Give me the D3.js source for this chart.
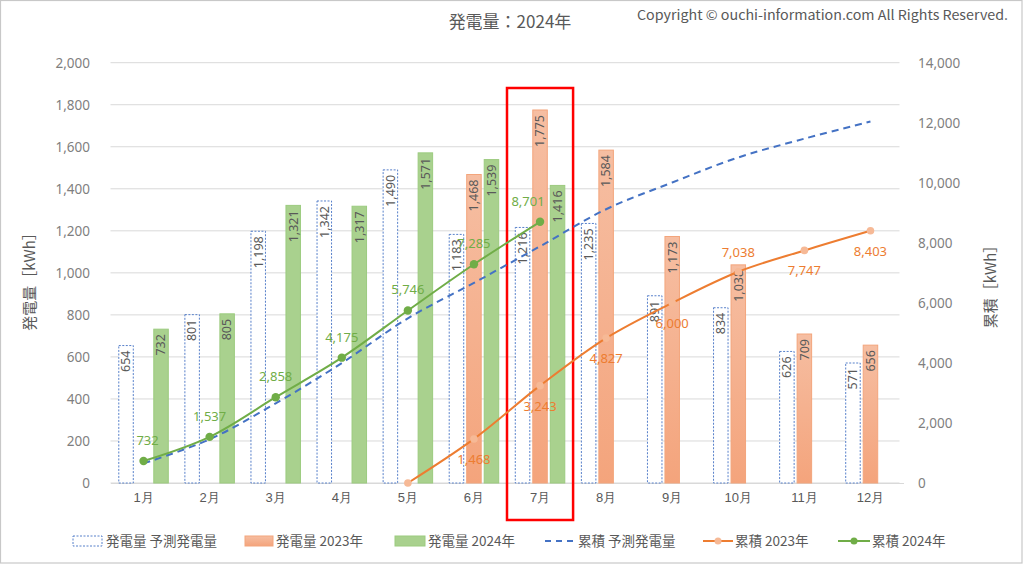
<!DOCTYPE html>
<html><head><meta charset="utf-8">
<script src="https://cdn.jsdelivr.net/npm/d3@7"></script>
<style>
html,body{margin:0;padding:0;background:#fff;}
svg{display:block;font-family:"Noto Sans CJK JP","Noto Sans",sans-serif;}
</style></head>
<body><svg id="c" width="1024" height="566"></svg>
<script>
const months = ["1月","2月","3月","4月","5月","6月","7月","8月","9月","10月","11月","12月"];
const predicted = [654,801,1198,1342,1490,1183,1216,1235,891,834,626,571];
const gen2023 = [null,null,null,null,null,1468,1775,1584,1173,1038,709,656];
const gen2024 = [732,805,1321,1317,1571,1539,1416,null,null,null,null,null];
const cumPredicted = [654,1455,2653,3995,5485,6668,7884,9119,10010,10844,11470,12041];
const cum2023 = [null,null,null,null,0,1468,3243,4827,6000,7038,7747,8403];
const cum2024 = [732,1537,2858,4175,5746,7285,8701,null,null,null,null,null];
const leftTicks = [0,200,400,600,800,1000,1200,1400,1600,1800,2000];
const rightTicks = [0,2000,4000,6000,8000,10000,12000,14000];
const legendLabels = ["発電量 予測発電量","発電量 2023年","発電量 2024年","累積 予測発電量","累積 2023年","累積 2024年"];
const highlightMonth = "7月";

const svg = d3.select("#c");
const plot = {left:110.5,right:903.5,top:62.7,bottom:483};
const fmt = d3.format(",");
const C = {text:"#595959", axis:"#7f7f7f", grid:"#d9d9d9", blue:"#4472C4", orange:"#ED7D31", green:"#70AD47", greenFill:"#A9D18E"};

// frame
svg.append("rect").attr("x",0.5).attr("y",0.5).attr("width",1021.5).attr("height",562.5)
  .attr("fill","#fff").attr("stroke","#c8c8c8").attr("stroke-width",1.2);

const defs = svg.append("defs");
const g1 = defs.append("linearGradient").attr("id","og").attr("x1",0).attr("y1",0).attr("x2",0).attr("y2",1);
g1.append("stop").attr("offset","0%").attr("stop-color","#F6BEA2");
g1.append("stop").attr("offset","100%").attr("stop-color","#F4A47C");

const x = d3.scaleBand().domain(months).range([plot.left,plot.right]).paddingInner(0).paddingOuter(0);
const yL = d3.scaleLinear().domain([0,2000]).range([plot.bottom,plot.top]);
const yR = d3.scaleLinear().domain([0,14000]).range([plot.bottom,plot.top]);
const cx = m => x(m)+x.bandwidth()/2;

// grid
svg.append("g").selectAll("line").data(leftTicks).join("line")
  .attr("x1",plot.left).attr("x2",plot.right-4)
  .attr("y1",d=>yL(d)).attr("y2",d=>yL(d))
  .attr("stroke",C.grid).attr("stroke-width",1);

// left axis
const axL = svg.append("g").attr("transform",`translate(90,0)`)
  .call(d3.axisLeft(yL).tickValues(leftTicks).tickFormat(fmt).tickSize(0).tickPadding(0));
axL.select(".domain").remove();
axL.selectAll("text").attr("fill",C.axis).attr("font-size",13.5).attr("font-family","'Noto Sans','DejaVu Sans',sans-serif");

const axR = svg.append("g").attr("transform",`translate(918,0)`)
  .call(d3.axisRight(yR).tickValues(rightTicks).tickFormat(fmt).tickSize(0).tickPadding(0));
axR.select(".domain").remove();
axR.selectAll("text").attr("fill",C.axis).attr("font-size",13.5).attr("font-family","'Noto Sans','DejaVu Sans',sans-serif");

const axB = svg.append("g").attr("transform",`translate(0,${plot.bottom})`)
  .call(d3.axisBottom(x).tickSize(0).tickPadding(10));
axB.select(".domain").attr("stroke",C.grid);
axB.selectAll("text").attr("fill",C.text).attr("font-size",13);

// axis titles
svg.append("text").attr("transform","translate(35,278) rotate(-90)").attr("text-anchor","middle")
  .attr("fill",C.text).attr("font-size",15).text("発電量［kWh］");
svg.append("text").attr("transform","translate(996,283) rotate(-90)").attr("text-anchor","middle")
  .attr("fill",C.text).attr("font-size",15).text("累積［kWh］");

// title + copyright
svg.append("text").attr("x",510).attr("y",28).attr("text-anchor","middle").attr("fill",C.text)
  .attr("font-size",17).text("発電量：2024年");
svg.append("text").attr("x",637).attr("y",20).attr("fill",C.text).attr("font-size",13.5)
  .attr("textLength",371).attr("lengthAdjust","spacingAndGlyphs")
  .text("Copyright © ouchi-information.com All Rights Reserved.");

// bars
const bw = 14.5, off = 17.5;
const series = [
  {vals:predicted, dx:-off, fill:"#fff", stroke:C.blue, dash:"2,1.5", sw:0.9},
  {vals:gen2023, dx:0, fill:"url(#og)", stroke:"#F3A57C", dash:null, sw:1},
  {vals:gen2024, dx:off, fill:C.greenFill, stroke:"#9CCB7F", dash:null, sw:1}
];
series.forEach(s=>{
  const data = months.map((m,i)=>({m,v:s.vals[i]})).filter(d=>d.v!=null);
  const g = svg.append("g");
  g.selectAll("rect").data(data).join("rect")
    .attr("x",d=>cx(d.m)+s.dx-bw/2).attr("width",bw)
    .attr("y",d=>yL(d.v)).attr("height",d=>yL(0)-yL(d.v))
    .attr("fill",s.fill).attr("stroke",s.stroke).attr("stroke-width",s.sw)
    .attr("stroke-dasharray",s.dash);
  g.selectAll("text").data(data).join("text")
    .attr("transform",d=>`translate(${cx(d.m)+s.dx+4.3},${yL(d.v)+5}) rotate(-90)`)
    .attr("text-anchor","end").attr("fill",C.text).attr("font-size",12.5)
    .attr("font-family","'Noto Sans','DejaVu Sans',sans-serif")
    .text(d=>fmt(d.v));
});

// highlight box
svg.append("rect").attr("x",x(highlightMonth)).attr("y",88).attr("width",x.bandwidth()).attr("height",432)
  .attr("fill","none").attr("stroke","#FF0000").attr("stroke-width",2.5);

// lines
const line = d3.line().x(d=>cx(d.m)).y(d=>yR(d.v)).curve(d3.curveCatmullRom.alpha(0.5));
const toPts = arr => months.map((m,i)=>({m,v:arr[i],i})).filter(d=>d.v!=null);

const pP = toPts(cumPredicted);
svg.append("path").attr("d",line(pP)).attr("fill","none").attr("stroke",C.blue)
  .attr("stroke-width",2).attr("stroke-dasharray","7,5");

const p23 = toPts(cum2023);
svg.append("path").attr("d",line(p23)).attr("fill","none").attr("stroke",C.orange).attr("stroke-width",2);
svg.append("g").selectAll("circle").data(p23).join("circle")
  .attr("cx",d=>cx(d.m)).attr("cy",d=>yR(d.v)).attr("r",3.8).attr("fill","#F6B996").attr("stroke","none");
const above23 = new Set([7038]);
svg.append("g").selectAll("text").data(p23.filter(d=>d.v>0)).join("text")
  .attr("x",d=>cx(d.m)).attr("y",d=>above23.has(d.v)? yR(d.v)-15 : yR(d.v)+25)
  .attr("text-anchor","middle").attr("fill",C.orange).attr("font-size",13)
  .attr("font-family","'Noto Sans','DejaVu Sans',sans-serif").text(d=>fmt(d.v));

const p24 = toPts(cum2024);
const nudge24 = {0:4, 6:-12};
svg.append("path").attr("d",line(p24)).attr("fill","none").attr("stroke",C.green).attr("stroke-width",2);
svg.append("g").selectAll("circle").data(p24).join("circle")
  .attr("cx",d=>cx(d.m)).attr("cy",d=>yR(d.v)).attr("r",4.2).attr("fill",C.green);
svg.append("g").selectAll("text").data(p24).join("text")
  .attr("x",d=>cx(d.m)+(nudge24[d.i]||0)).attr("y",d=>yR(d.v)-16)
  .attr("text-anchor","middle").attr("fill",C.green).attr("font-size",13)
  .attr("font-family","'Noto Sans','DejaVu Sans',sans-serif").text(d=>fmt(d.v));

// legend
const ly = 541;
const lg = svg.append("g");
const legX = [73,245,395,545,703,838];
lg.append("rect").attr("x",legX[0]).attr("y",ly-5).attr("width",29).attr("height",10)
  .attr("fill","#fff").attr("stroke",C.blue).attr("stroke-width",0.9).attr("stroke-dasharray","2,1.5");
lg.append("rect").attr("x",legX[1]).attr("y",ly-5).attr("width",28).attr("height",10)
  .attr("fill","url(#og)").attr("stroke","#F3A57C");
lg.append("rect").attr("x",legX[2]).attr("y",ly-5).attr("width",30).attr("height",10)
  .attr("fill",C.greenFill).attr("stroke","#9CCB7F");
lg.append("line").attr("x1",legX[3]).attr("x2",legX[3]+32).attr("y1",ly).attr("y2",ly)
  .attr("stroke",C.blue).attr("stroke-width",2).attr("stroke-dasharray","6,5");
lg.append("line").attr("x1",legX[4]).attr("x2",legX[4]+30).attr("y1",ly).attr("y2",ly)
  .attr("stroke",C.orange).attr("stroke-width",2);
lg.append("circle").attr("cx",legX[4]+15).attr("cy",ly).attr("r",3.5).attr("fill","#F6B996");
lg.append("line").attr("x1",legX[5]).attr("x2",legX[5]+32).attr("y1",ly).attr("y2",ly)
  .attr("stroke",C.green).attr("stroke-width",2);
lg.append("circle").attr("cx",legX[5]+16).attr("cy",ly).attr("r",3.5).attr("fill",C.green);
const textX = [106,276,428,578,735,872];
lg.selectAll("text.lt").data(legendLabels).join("text").attr("class","lt")
  .attr("x",(d,i)=>textX[i]).attr("y",ly+5).attr("fill",C.text).attr("font-size",13.5).text(d=>d);
</script></body></html>
